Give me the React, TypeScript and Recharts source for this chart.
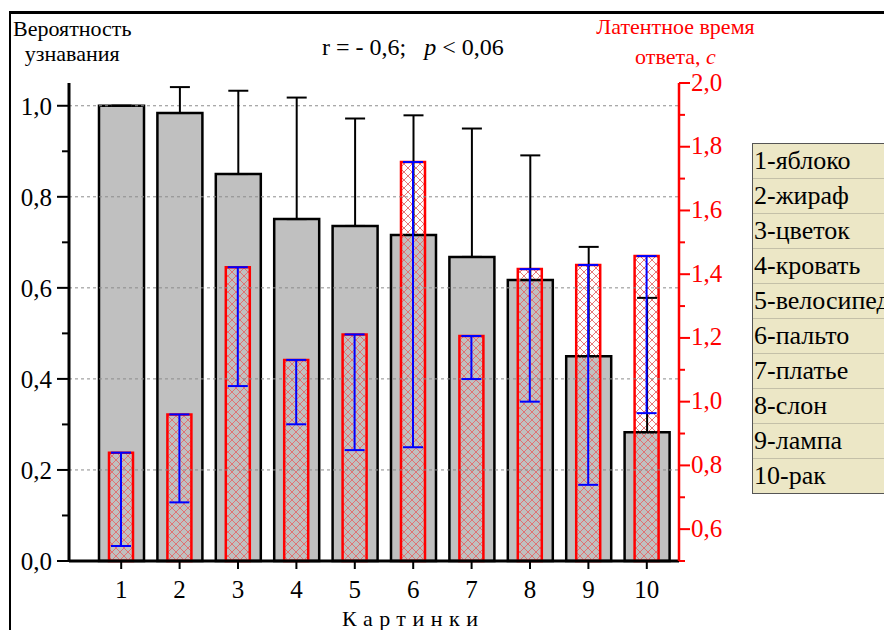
import { Bar, BarChart, ErrorBar, ReferenceLine, XAxis, YAxis } from "recharts"

const pictures = ["1", "2", "3", "4", "5", "6", "7", "8", "9", "10"]
const recognition = [1.0, 0.984, 0.85, 0.751, 0.736, 0.716, 0.668, 0.617, 0.45, 0.283]
const recognitionErr = [0, 0.057, 0.183, 0.267, 0.236, 0.263, 0.282, 0.274, 0.24, 0.295]
const latency = [0.84, 0.96, 1.422, 1.131, 1.211, 1.752, 1.206, 1.416, 1.429, 1.457]
const latencyErr = [0.293, 0.276, 0.373, 0.202, 0.363, 0.895, 0.135, 0.416, 0.69, 0.493]
const leftTicks = [0, 0.1, 0.2, 0.3, 0.4, 0.5, 0.6, 0.7, 0.8, 0.9, 1.0]
const rightTicks = [0.5, 0.6, 0.7, 0.8, 0.9, 1.0, 1.1, 1.2, 1.3, 1.4, 1.5, 1.6, 1.7, 1.8, 1.9, 2.0]
const gridLines = [0.2, 0.4, 0.6, 0.8, 1.0]
const legendItems = ["1-яблоко", "2-жираф", "3-цветок", "4-кровать", "5-велосипед", "6-пальто", "7-платье", "8-слон", "9-лампа", "10-рак"]

const data = pictures.map((n, i) => ({
    n,
    rec: recognition[i],
    recErr: [0, recognitionErr[i]],
    lat: latency[i],
    latErr: [latencyErr[i], 0],
}))

const FONT = "Liberation Serif, Tinos, Times New Roman, DejaVu Serif, serif"
const LEFT_X = 69
const RIGHT_X = 679

const fmt = (v: number) => v.toFixed(1).replace(".", ",")
const isMajor = (v: number) => Math.round(v * 10) % 2 === 0

function LeftTick(props: any) {
    const v = props.payload.value
    const y = props.y
    const major = isMajor(v)
    return (
        <g>
            <line x1={LEFT_X - (major ? 12 : 7)} x2={LEFT_X} y1={y} y2={y} stroke="#000" strokeWidth={2} />
            {major && (
                <text x={LEFT_X - 17} y={y} dy="0.36em" textAnchor="end" fontSize={25} style={{ fontFamily: FONT }} fill="#000">
                    {fmt(v)}
                </text>
            )}
        </g>
    )
}

function RightTick(props: any) {
    const v = props.payload.value
    const y = props.y
    const major = isMajor(v)
    return (
        <g>
            <line x1={RIGHT_X} x2={RIGHT_X + (major ? 11 : 6)} y1={y} y2={y} stroke="#ff0000" strokeWidth={2} />
            {major && (
                <text x={RIGHT_X + 12} y={y} dy="0.3em" textAnchor="start" fontSize={25} style={{ fontFamily: FONT }} fill="#ff0000">
                    {fmt(v)}
                </text>
            )}
        </g>
    )
}

export default function App() {
    return (
        <div style={{ position: "absolute", left: 0, top: 0, width: 884, height: 630, overflow: "hidden", background: "#fff", fontFamily: FONT }}>
            <svg width={0} height={0} style={{ position: "absolute" }}>
                <defs>
                    <pattern id="hatch" width={8} height={8} patternUnits="userSpaceOnUse">
                        <path d="M0,0 L8,8 M8,0 L0,8" stroke="#e26a6a" strokeWidth={0.9} />
                    </pattern>
                </defs>
            </svg>

            {/* frame */}
            <div style={{ position: "absolute", left: 9, top: 11, width: 900, height: 700, borderTop: "3px solid #000", borderLeft: "2px solid #000" }} />

            <div style={{ position: "absolute", left: 0, top: 0 }}>
                <BarChart width={884} height={630} data={data} margin={{ top: 83, right: 145, bottom: 29, left: 0 }} style={{ fontFamily: FONT }}>
                    <XAxis
                        xAxisId="a"
                        dataKey="n"
                        padding={{ left: 23, right: 3 }}
                        tick={{ fontSize: 25, fill: "#000", style: { fontFamily: FONT } }}
                        tickSize={8}
                        tickMargin={11}
                        height={40}
                        axisLine={{ stroke: "#000", strokeWidth: 3 }}
                        tickLine={{ stroke: "#000", strokeWidth: 2 }}
                    />
                    <XAxis xAxisId="b" dataKey="n" padding={{ left: 23, right: 3 }} hide />
                    <YAxis
                        yAxisId="l"
                        domain={[0, 1.05]}
                        ticks={leftTicks}
                        interval={0}
                        width={69}
                        tick={<LeftTick />}
                        tickLine={false}
                        axisLine={{ stroke: "#000", strokeWidth: 3 }}
                    />
                    <YAxis
                        yAxisId="r"
                        orientation="right"
                        domain={[0.5, 2.0]}
                        ticks={rightTicks}
                        interval={0}
                        width={60}
                        tick={<RightTick />}
                        tickLine={false}
                        axisLine={{ stroke: "#ff0000", strokeWidth: 2.5 }}
                    />
                    {gridLines.map((g) => (
                        <ReferenceLine key={g} xAxisId="a" yAxisId="l" y={g} stroke="#8c8c8c" strokeDasharray="3 3" strokeWidth={1} />
                    ))}
                    <Bar xAxisId="a" yAxisId="l" dataKey="rec" barSize={45} fill="#c0c0c0" stroke="#000" strokeWidth={2.5} isAnimationActive={false}>
                        <ErrorBar dataKey="recErr" width={10} stroke="#000" strokeWidth={2} direction="y" />
                    </Bar>
                    <Bar xAxisId="b" yAxisId="r" dataKey="lat" barSize={24} fill="url(#hatch)" stroke="#ff0000" strokeWidth={2.5} isAnimationActive={false}>
                        <ErrorBar dataKey="latErr" width={10} stroke="#0000ff" strokeWidth={2} direction="y" />
                    </Bar>
                </BarChart>
            </div>

            {/* titles */}
            <div style={{ position: "absolute", left: 13, top: 16, fontSize: 22, lineHeight: "25px", textAlign: "center", color: "#000" }}>
                Вероятность
                <br />
                узнавания
            </div>
            <div style={{ position: "absolute", left: 322, top: 34, fontSize: 24, whiteSpace: "pre", color: "#000" }}>
                {"r = - 0,6;   "}
                <i>p</i>
                {" < 0,06"}
            </div>
            <div style={{ position: "absolute", left: 588, top: 12, width: 175, fontSize: 22, lineHeight: "30px", textAlign: "center", color: "#ff0000" }}>
                Латентное время
                <br />
                ответа, <i>с</i>
            </div>
            <div style={{ position: "absolute", left: 342, top: 606, fontSize: 22, letterSpacing: 6.5, color: "#000" }}>Картинки</div>

            {/* legend */}
            <div style={{ position: "absolute", left: 752, top: 143, width: 160, border: "1px solid #555", background: "#ece7c6" }}>
                {legendItems.map((t, i) => (
                    <div
                        key={t}
                        style={{
                            height: 34,
                            lineHeight: "34px",
                            paddingLeft: 1,
                            fontSize: 26,
                            whiteSpace: "nowrap",
                            borderTop: i === 0 ? "none" : "1px solid #c4c0a8",
                            color: "#000",
                        }}
                    >
                        {t}
                    </div>
                ))}
            </div>
        </div>
    )
}
